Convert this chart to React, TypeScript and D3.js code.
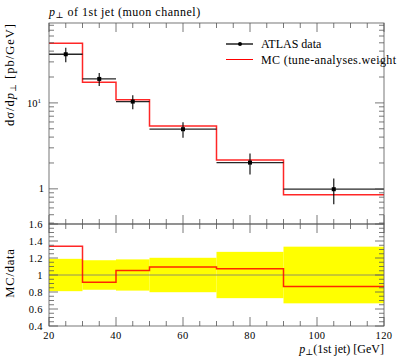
import React from 'react';
import * as d3 from 'd3';

// bin edges in pT [GeV]
const binLo = [20, 30, 40, 50, 70, 90];
const binHi = [30, 40, 50, 70, 90, 120];
// ATLAS data and MC prediction, dsigma/dpT [pb/GeV]
const dataVals = [36.8, 19.0, 10.35, 4.94, 2.02, 0.99];
const dataErrs = [7.0, 3.3, 1.9, 1.0, 0.55, 0.33];
const mcVals = [49.3, 17.4, 10.9, 5.4, 2.17, 0.855];

const xMajor = [20, 40, 60, 80, 100, 120];
const ratioMajor = [0.4, 0.6, 0.8, 1, 1.2, 1.4, 1.6];

const W = 397;
const H = 358;
const font = '"Liberation Serif", "DejaVu Serif", serif';
const frame = '#555';

export default function App() {
  const x = d3.scaleLinear().domain([20, 120]).range([49, 384]);
  const y = d3.scaleLog().domain([0.39, 85]).range([224, 23]);
  const r = d3.scaleLinear().domain([0.4, 1.6]).range([326, 224]);

  const xMinor = d3.range(20, 121, 5).filter((v) => v % 20 !== 0);
  const yMinor: number[] = [];
  [0.1, 1, 10].forEach((dec) => {
    for (let k = 2; k <= 9; k++) {
      const v = dec * k;
      if (v >= 0.39 && v <= 85) yMinor.push(v);
    }
  });
  const ratioMinor = d3.range(0.4, 1.6001, 0.05).filter(
    (v) => Math.abs(v * 5 - Math.round(v * 5)) > 1e-6
  );

  const step = (vals: number[], sy: (v: number) => number) => {
    let d = '';
    vals.forEach((v, i) => {
      d += `${i === 0 ? 'M' : 'L'}${x(binLo[i])},${sy(v)}L${x(binHi[i])},${sy(v)}`;
    });
    return d;
  };

  const ratio = mcVals.map((m, i) => m / dataVals[i]);
  const relErr = dataErrs.map((e, i) => e / dataVals[i]);

  const ticksX = (yy: number, dir: number) =>
    [...xMajor.map((v) => [v, 9]), ...xMinor.map((v) => [v, 5])].map(([v, len], i) => (
      <line key={`tx${yy}-${i}`} x1={x(v)} x2={x(v)} y1={yy} y2={yy + dir * len} stroke={frame} strokeWidth={0.8} />
    ));

  const x0 = 49;
  const x1 = 384;

  return (
    <svg width={W} height={H} style={{ position: 'fixed', left: 0, top: 0, background: '#fff' }} fontFamily={font}>
      {/* title */}
      <text x={49} y={16} fontSize={12} letterSpacing={0.5}>
        <tspan fontStyle="italic">p</tspan>
        <tspan fontSize={8.5} dy={2}>⊥</tspan>
        <tspan dy={-2}> of 1st jet (muon channel)</tspan>
      </text>

      {/* main panel */}
      <path d={step(mcVals, y)} fill="none" stroke="#f00" strokeWidth={1.5} strokeOpacity={0.85} />
      {dataVals.map((v, i) => {
        const cx = x((binLo[i] + binHi[i]) / 2);
        return (
          <g key={`d${i}`}>
            <line x1={x(binLo[i])} x2={x(binHi[i])} y1={y(v)} y2={y(v)} stroke="#000" strokeWidth={1.3} strokeOpacity={0.85} />
            <line x1={cx} x2={cx} y1={y(v + dataErrs[i])} y2={y(v - dataErrs[i])} stroke="#000" strokeWidth={1.3} strokeOpacity={0.85} />
            <rect x={cx - 2} y={y(v) - 2} width={4} height={4} fill="#000" />
          </g>
        );
      })}

      {/* main y ticks */}
      {[1, 10].map((v) => (
        <g key={`ym${v}`}>
          <line x1={x0} x2={x0 + 9} y1={y(v)} y2={y(v)} stroke={frame} strokeWidth={0.8} />
          <line x1={x1} x2={x1 - 9} y1={y(v)} y2={y(v)} stroke={frame} strokeWidth={0.8} />
        </g>
      ))}
      {yMinor.map((v) => (
        <g key={`yn${v}`}>
          <line x1={x0} x2={x0 + 5} y1={y(v)} y2={y(v)} stroke={frame} strokeWidth={0.8} />
          <line x1={x1} x2={x1 - 5} y1={y(v)} y2={y(v)} stroke={frame} strokeWidth={0.8} />
        </g>
      ))}
      <text x={41} y={y(10) + 4} fontSize={10.5} textAnchor="end">
        10<tspan fontSize={7} dy={-4}>1</tspan>
      </text>
      <text x={44} y={y(1) + 3.5} fontSize={10.5} textAnchor="end">1</text>
      {ticksX(23, 1)}
      {ticksX(224, -1)}

      {/* main y label */}
      <text transform="translate(14,23) rotate(-90)" fontSize={12.5} letterSpacing={1} textAnchor="end">
        dσ/d<tspan fontStyle="italic">p</tspan>
        <tspan fontSize={8.5} dy={2}>⊥</tspan>
        <tspan dy={-2}> [pb/GeV]</tspan>
      </text>

      {/* legend */}
      <line x1={226} x2={253} y1={44} y2={44} stroke="#000" strokeWidth={1.3} />
      <circle cx={240} cy={44} r={2} fill="#000" />
      <text x={261} y={48} fontSize={12}>ATLAS data</text>
      <line x1={226} x2={253} y1={59.5} y2={59.5} stroke="#f00" strokeWidth={1} />
      <text x={261} y={64} fontSize={12} textLength={135} lengthAdjust="spacing">MC (tune-analyses.weight</text>

      {/* ratio panel */}
      {ratio.map((_, i) => (
        <rect
          key={`b${i}`}
          x={x(binLo[i])}
          width={x(binHi[i]) - x(binLo[i])}
          y={r(1 + relErr[i])}
          height={r(1 - relErr[i]) - r(1 + relErr[i])}
          fill="#ffff00"
        />
      ))}
      <line x1={x0} x2={x1} y1={r(1)} y2={r(1)} stroke="#777" strokeWidth={0.8} />
      <path d={step(ratio, r)} fill="none" stroke="#f00" strokeWidth={1.5} strokeOpacity={0.85} />
      {ratioMajor.map((v) => (
        <g key={`rm${v}`}>
          <line x1={x0} x2={x0 + 9} y1={r(v)} y2={r(v)} stroke={frame} strokeWidth={0.8} />
          <line x1={x1} x2={x1 - 9} y1={r(v)} y2={r(v)} stroke={frame} strokeWidth={0.8} />
          <text x={43} y={r(v) + 3.5} fontSize={10.5} letterSpacing={0.4} textAnchor="end">{String(v)}</text>
        </g>
      ))}
      {ratioMinor.map((v, i) => (
        <g key={`rn${i}`}>
          <line x1={x0} x2={x0 + 5} y1={r(v)} y2={r(v)} stroke={frame} strokeWidth={0.8} />
          <line x1={x1} x2={x1 - 5} y1={r(v)} y2={r(v)} stroke={frame} strokeWidth={0.8} />
        </g>
      ))}
      {ticksX(224, 1)}
      {ticksX(326, -1)}
      {xMajor.map((v) => (
        <text key={`xl${v}`} x={x(v)} y={339} fontSize={10.5} letterSpacing={0.4} textAnchor="middle">{v}</text>
      ))}
      <text transform={`translate(14,${r(1) - 2}) rotate(-90)`} fontSize={12.5} letterSpacing={0.8} textAnchor="middle">MC/data</text>
      <text x={384} y={353} fontSize={12} textAnchor="end">
        <tspan fontStyle="italic">p</tspan>
        <tspan fontSize={8.5} dy={2}>⊥</tspan>
        <tspan dy={-2}>(1st jet) [GeV]</tspan>
      </text>

      {/* frames */}
      <rect x={x0} y={23} width={x1 - x0} height={201} fill="none" stroke={frame} strokeWidth={0.8} />
      <rect x={x0} y={224} width={x1 - x0} height={102} fill="none" stroke={frame} strokeWidth={0.8} />
    </svg>
  );
}
